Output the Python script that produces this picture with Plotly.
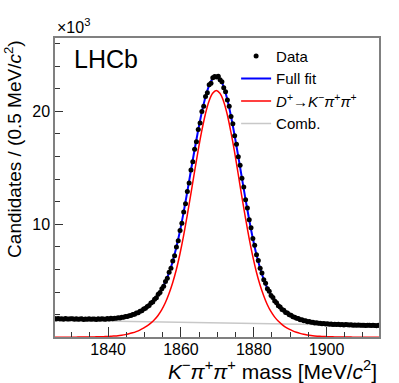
import numpy as np
import plotly.graph_objects as go

## data ##
# K- pi+ pi+ invariant mass, 0.5 MeV bins, candidates in units of 10^3
mass_bins = np.arange(1825.25, 1915.0, 0.5)
data = [
    1.66, 1.62, 1.65, 1.61, 1.64, 1.60, 1.65, 1.62, 1.61, 1.64,
    1.63, 1.59, 1.64, 1.60, 1.62, 1.63, 1.58, 1.62, 1.60, 1.64,
    1.59, 1.62, 1.61, 1.58, 1.63, 1.60, 1.64, 1.61, 1.60, 1.65,
    1.62, 1.67, 1.64, 1.69, 1.67, 1.72, 1.70, 1.77, 1.76, 1.84,
    1.83, 1.91, 1.92, 2.01, 2.03, 2.15, 2.17, 2.30, 2.35, 2.50,
    2.56, 2.73, 2.82, 3.03, 3.13, 3.37, 3.50, 3.80, 3.95, 4.30,
    4.52, 4.94, 5.22, 5.75, 6.10, 6.74, 7.22, 8.00, 8.55, 9.45,
    10.10, 11.10, 11.82, 12.90, 13.66, 14.80, 15.55, 16.65, 17.32, 18.40,
    18.98, 19.98, 20.45, 21.33, 21.65, 22.35, 22.50, 22.98, 23.08, 23.05,
    23.12, 22.80, 22.62, 22.10, 21.74, 21.00, 20.46, 19.55, 18.90, 17.85,
    17.10, 15.98, 15.22, 14.08, 13.30, 12.18, 11.45, 10.40, 9.70, 8.74,
    8.15, 7.30, 6.80, 6.10, 5.69, 5.09, 4.78, 4.30, 4.07, 3.69,
    3.51, 3.20, 3.05, 2.79, 2.68, 2.46, 2.38, 2.20, 2.14, 1.98,
    1.94, 1.81, 1.78, 1.67, 1.65, 1.55, 1.54, 1.46, 1.45, 1.38,
    1.39, 1.32, 1.33, 1.27, 1.29, 1.23, 1.24, 1.20, 1.22, 1.17,
    1.19, 1.15, 1.17, 1.13, 1.15, 1.12, 1.14, 1.10, 1.13, 1.09,
    1.12, 1.11, 1.08, 1.10, 1.07, 1.09, 1.06, 1.08, 1.05, 1.07,
    1.06, 1.04, 1.07, 1.05, 1.03, 1.06, 1.04, 1.02, 1.05, 1.03,
]

# fit curves sampled every 1 MeV
mass_fit = np.arange(1824.7, 1915.0, 1.0)
full_fit = [
    1.65, 1.64, 1.64, 1.63, 1.63, 1.63, 1.62, 1.62, 1.61, 1.61,
    1.61, 1.61, 1.61, 1.62, 1.62, 1.63, 1.65, 1.67, 1.70, 1.75,
    1.81, 1.89, 1.98, 2.12, 2.27, 2.47, 2.70, 2.99, 3.33, 3.75,
    4.24, 4.89, 5.68, 6.67, 7.92, 9.36, 11.01, 12.80, 14.70, 16.54,
    18.29, 19.88, 21.23, 22.25, 22.89, 23.11, 22.88, 22.20, 21.10, 19.64,
    17.94, 16.08, 14.18, 12.27, 10.47, 8.81, 7.36, 6.15, 5.14, 4.34,
    3.73, 3.23, 2.82, 2.49, 2.22, 2.01, 1.83, 1.69, 1.57, 1.48,
    1.40, 1.34, 1.29, 1.25, 1.21, 1.19, 1.16, 1.15, 1.13, 1.12,
    1.11, 1.10, 1.09, 1.08, 1.07, 1.06, 1.06, 1.05, 1.04, 1.04,
    1.03,
]
signal = [
    0.002, 0.003, 0.003, 0.004, 0.005, 0.006, 0.008, 0.010, 0.013, 0.016,
    0.020, 0.025, 0.032, 0.041, 0.052, 0.066, 0.085, 0.11, 0.14, 0.18,
    0.23, 0.30, 0.39, 0.50, 0.63, 0.80, 1.00, 1.25, 1.55, 1.93,
    2.42, 3.05, 3.85, 4.80, 5.95, 7.35, 8.95, 10.75, 12.65, 14.6,
    16.5, 18.25, 19.75, 20.9, 21.6, 21.85, 21.6, 20.9, 19.75, 18.2,
    16.45, 14.5, 12.5, 10.6, 8.8, 7.2, 5.8, 4.65, 3.7, 2.9,
    2.28, 1.8, 1.43, 1.14, 0.9, 0.71, 0.56, 0.44, 0.34, 0.26,
    0.2, 0.15, 0.115, 0.09, 0.07, 0.054, 0.042, 0.033, 0.026, 0.02,
    0.016, 0.013, 0.010, 0.008, 0.006, 0.005, 0.004, 0.003, 0.003, 0.002,
    0.002,
]
comb_mass = [1824.7, 1869.7, 1914.7]
comb = [1.496, 1.262, 1.028]

FONT = "Liberation Sans, Arial, Helvetica, sans-serif"

fig = go.Figure()
fig.add_trace(go.Scatter(x=comb_mass, y=comb, mode="lines", name="Comb.",
                         line=dict(color="#c8c8c8", width=1.5), legendrank=4))
fig.add_trace(go.Scatter(x=mass_fit, y=signal, mode="lines", line_shape="spline",
                         name="<i>D</i><sup>+</sup>→<i>K</i><sup>−</sup><i>π</i><sup>+</sup><i>π</i><sup>+</sup>",
                         line=dict(color="#ff0000", width=1.5), legendrank=3))
fig.add_trace(go.Scatter(x=mass_fit, y=full_fit, mode="lines", line_shape="spline",
                         name="Full fit", line=dict(color="#0000ff", width=2), legendrank=2))
fig.add_trace(go.Scatter(x=mass_bins, y=data, mode="markers", name="Data",
                         marker=dict(color="black", size=5), legendrank=1))

axis_common = dict(
    showline=True, linecolor="#808080", linewidth=1.5, mirror=True,
    ticks="inside", tickcolor="#333333", showgrid=False, zeroline=False,
    tickfont=dict(size=16, color="black", family=FONT),
)
fig.update_xaxes(range=[1825.4, 1914.4], tick0=1840, dtick=20, ticklen=10,
                 ticklabelstandoff=-3,
                 minor=dict(dtick=5, tick0=1840, ticklen=5, ticks="inside", tickcolor="#333333"),
                 **axis_common)
fig.update_yaxes(range=[0.02, 26.5], tick0=0, dtick=10, ticklen=8,
                 minor=dict(dtick=2, tick0=0, ticklen=5, ticks="inside", tickcolor="#333333"),
                 **axis_common)

fig.update_layout(
    width=399, height=383,
    margin=dict(l=55, r=20, t=38, b=46),
    paper_bgcolor="white", plot_bgcolor="white",
    font=dict(family=FONT, color="black"),
    legend=dict(x=0.559, y=0.994, xanchor="left", yanchor="top",
                font=dict(size=15), bgcolor="rgba(0,0,0,0)",
                itemwidth=30, tracegroupgap=0),
    annotations=[
        dict(text="×10<sup>3</sup>", xref="paper", yref="paper", x=0, y=1,
             xanchor="left", yanchor="bottom", showarrow=False, font=dict(size=16)),
        dict(text="LHCb", xref="paper", yref="paper", x=0.052, y=0.93,
             xanchor="left", yanchor="middle", showarrow=False, font=dict(size=25)),
        dict(text="<i>K</i><sup>−</sup><i>π</i><sup>+</sup><i>π</i><sup>+</sup> mass [MeV/<i>c</i><sup>2</sup>]",
             xref="paper", yref="paper", x=1, y=-0.11, xanchor="right", yanchor="middle",
             showarrow=False, font=dict(size=21)),
        dict(text="Candidates / (0.5 MeV/<i>c</i><sup>2</sup>)", textangle=-90,
             xref="paper", yref="paper", x=-0.13, y=1.0, xanchor="center", yanchor="top",
             showarrow=False, font=dict(size=19)),
    ],
)

# drop the default page margin so the figure sits at the window's corner
fig.write_html("out.html", config={"displayModeBar": False},
               post_script="document.body.style.margin='0';document.body.style.overflow='hidden';")
